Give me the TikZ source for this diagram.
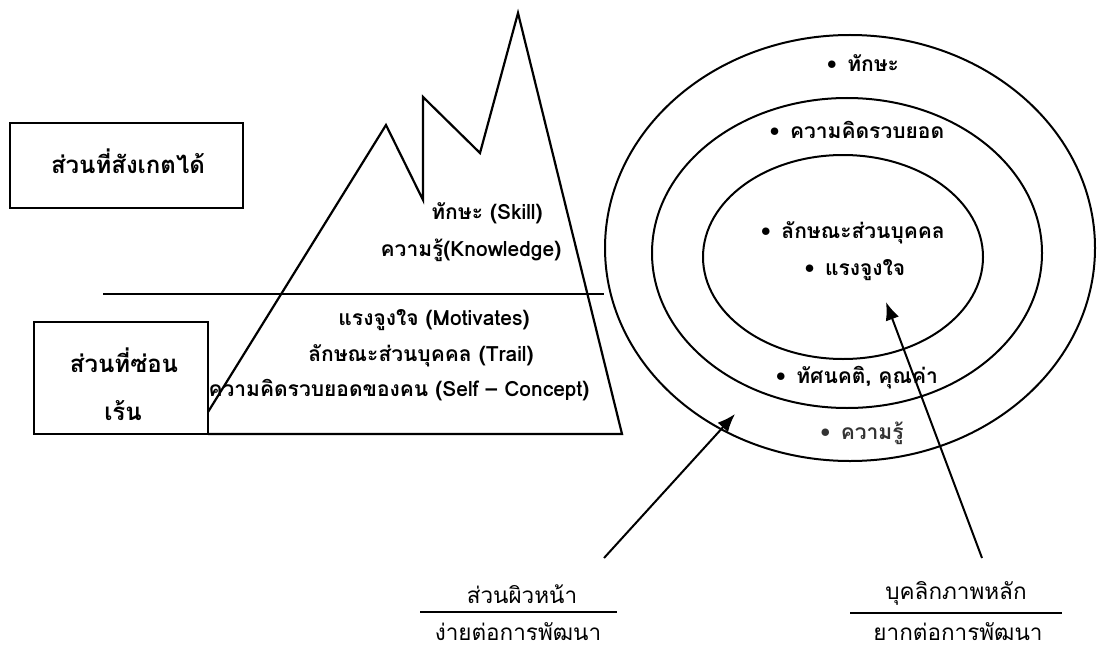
\documentclass[tikz,border=0pt]{standalone}
\usepackage{fontspec}
\newfontfamily\thai[Script=Thai]{Loma}
\usetikzlibrary{shapes.geometric,arrows.meta}
\begin{document}
\begin{tikzpicture}[x=1pt,y=-1pt,line width=2pt,
  bigtxt/.style={font=\thai\bfseries\fontsize{24}{28}\selectfont,inner sep=0pt},
  txt/.style={font=\thai\bfseries\fontsize{21}{24}\selectfont,inner sep=0pt},
  thin/.style={font=\thai\fontsize{22.5}{26}\selectfont,inner sep=0pt},
  ring/.style={draw,ellipse,line width=2pt,inner sep=0pt},
  arr/.style={line width=2pt,-{Latex[length=18pt,width=14pt]}}]
\useasboundingbox (0,0) rectangle (1097,650);
\fill[white] (0,0) rectangle (1097,650);
% boxes
\draw[line width=2.2pt] (10,123) rectangle (243,208);
\node[bigtxt] (obs) at (128,161) {ส่วนที่สังเกตได้};
\draw[line width=2.2pt] (34,322) rectangle (208,434);
\node[bigtxt] (hid1) at (124,360) {ส่วนที่ซ่อน};
\node[bigtxt] (hid2) at (123,411) {เร้น};
% mountain
\draw[line width=2.2pt,line join=miter] (208,412) -- (386,125) -- (423,200) -- (423,97) -- (480,153) -- (518,13) -- (622,434) -- (208,434);
% ellipses
\node[ring,minimum width=490pt,minimum height=426pt] (outer) at (850,248) {};
\node[ring,minimum width=390pt,minimum height=310pt] (middle) at (847,253) {};
\node[ring,minimum width=280pt,minimum height=204pt] (inner) at (843,257) {};
% water line
\draw[line width=2.2pt] (103,294) -- (outer.west |- 0,294) coordinate (wl);
% mountain texts
\node[txt] (skill) at (487,213) {ทักษะ (Skill)};
\node[txt] (know) at (471,250) {ความรู้(Knowledge)};
\node[txt] (motiv) at (434,320) {แรงจูงใจ (Motivates)};
\node[txt] (trait) at (421,356) {ลักษณะส่วนบุคคล (Trail)};
\node[txt] (self) at (399,390) {ความคิดรวบยอดของคน (Self – Concept)};
% ellipse texts
\node[txt] (e1) at (863,63) {•\hspace{0.5em}ทักษะ};
\node[txt] (e2) at (857,130) {•\hspace{0.5em}ความคิดรวบยอด};
\node[txt] (e3) at (853,233) {•\hspace{0.5em}ลักษณะส่วนบุคคล};
\node[txt] (e4) at (855,270) {•\hspace{0.5em}แรงจูงใจ};
\node[txt] (e5) at (857,378) {•\hspace{0.5em}ทัศนคติ, คุณค่า};
\node[txt,text=black!80] (e6) at (862,433) {•\hspace{0.5em}ความรู้};
% bottom labels
\node[thin] (surf) at (522,594) {ส่วนผิวหน้า};
\draw[line width=1.5pt] (420,612) coordinate (ul1) -- (617,612) coordinate (ur1);
\node[thin] (easy) at (518,632) {ง่ายต่อการพัฒนา};
\node[thin] (core) at (956,593) {บุคลิกภาพหลัก};
\draw[line width=1.5pt] (850,613) coordinate (ul2) -- (1062,613) coordinate (ur2);
\node[thin] (hard) at (958,632) {ยากต่อการพัฒนา};
% arrows
\coordinate (a1s) at (604,558);
\coordinate (a1e) at (735,414);
\coordinate (a2s) at (982,558);
\coordinate (a2e) at (886,302);
\draw[arr] (a1s) -- (a1e);
\draw[arr] (a2s) -- (a2e);
\end{tikzpicture}
\end{document}
